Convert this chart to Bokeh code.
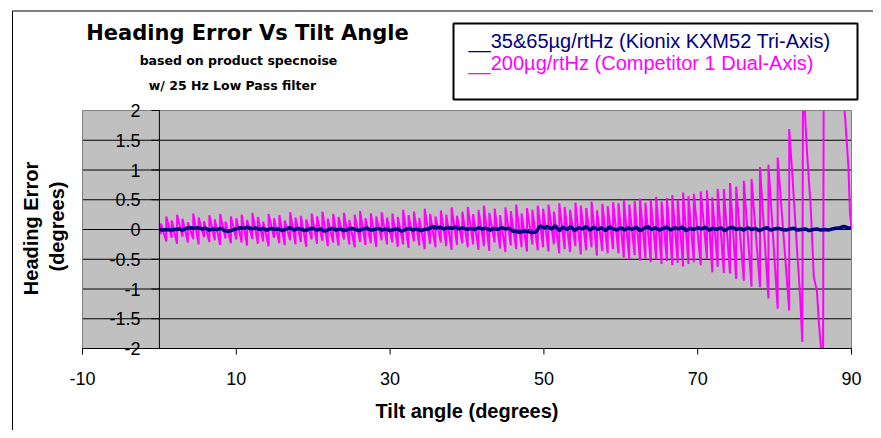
import math
from bokeh.plotting import figure
from bokeh.models import Range1d
from bokeh.core.properties import value
from bokeh.embed import file_html
from bokeh.resources import INLINE

FONT = "Liberation Sans"
TITLE_FONT = "DejaVu Sans"

# ---------------- data ----------------
x_min, x_max = -10, 90
y_min, y_max = -2, 2
x_ticks = [-10, 10, 30, 50, 70, 90]
x_tick_labels = ["-10", "10", "30", "50", "70", "90"]
y_ticks = [-2, -1.5, -1, -0.5, 0, 0.5, 1, 1.5, 2]
y_tick_labels = ["-2", "-1.5", "-1", "-0.5", "0", "0.5", "1", "1.5", "2"]
y_grid = [-1.5, -1, -0.5, 0, 0.5, 1, 1.5]

# Competitor (magenta): per oscillation cycle, tilt angle with trough and peak error
mag_cycle_tilt = [0.2, 0.9, 1.6, 2.3, 3.0, 3.7, 4.4, 5.1, 5.8, 6.5, 7.2, 7.9, 8.6, 9.3, 10.0,
                  10.7, 11.4, 12.1, 12.8, 13.5, 14.2, 14.9, 15.6, 16.3, 17.0, 17.7, 18.4, 19.1,
                  19.8, 20.5, 21.2, 21.9, 22.6, 23.3, 24.0, 24.7, 25.4, 26.1, 26.8, 27.5, 28.2, 28.9,
                  29.6, 30.3, 31.0, 31.7, 32.4, 33.1, 33.8, 34.5, 35.2, 35.9, 36.6, 37.3, 38.0, 38.7,
                  39.4, 40.1, 40.8, 41.5, 42.2, 42.9, 43.6, 44.3, 45.0, 45.7, 46.4, 47.1, 47.8, 48.5,
                  49.2, 49.9, 50.6, 51.3, 52.0, 52.7, 53.4, 54.1, 54.8, 55.5, 56.2, 56.9, 57.6, 58.3,
                  59.0, 59.7, 60.4, 61.1, 61.8, 62.5, 63.2, 63.9, 64.6, 65.3, 66.0, 66.7, 67.4, 68.1,
                  68.8, 69.5, 70.4, 71.2, 71.9, 72.6, 73.4, 74.2, 75.0, 76.0, 77.0, 78.1, 79.2, 80.4, 81.9]
mag_cycle_high = [0.10, 0.22, 0.15, 0.25, 0.18, 0.12, 0.27, 0.20, 0.14, 0.24, 0.17, 0.26, 0.13, 0.22, 0.19,
                  0.25, 0.16, 0.28, 0.21, 0.13, 0.26, 0.19, 0.24, 0.15, 0.29, 0.20, 0.23, 0.17, 0.27,
                  0.22, 0.30, 0.18, 0.26, 0.21, 0.28, 0.16, 0.25, 0.31, 0.19, 0.27, 0.22, 0.29, 0.20,
                  0.27, 0.21, 0.33, 0.24, 0.30, 0.19, 0.35, 0.26, 0.22, 0.32, 0.25, 0.37, 0.23, 0.30,
                  0.38, 0.26, 0.33, 0.40, 0.28, 0.35, 0.24, 0.37, 0.31, 0.42, 0.27, 0.36, 0.33, 0.40,
                  0.35, 0.42, 0.30, 0.44, 0.38, 0.33, 0.45, 0.40, 0.36, 0.47, 0.32, 0.43, 0.39, 0.46,
                  0.44, 0.50, 0.42, 0.48, 0.52, 0.45, 0.50, 0.55, 0.47, 0.53, 0.58, 0.50, 0.62, 0.56,
                  0.60, 0.64,
                  0.66, 0.54, 0.68, 0.68, 0.78, 0.72, 0.82, 0.85, 1.05, 1.09, 1.21, 1.69]
mag_cycle_low = [-0.08, -0.20, -0.14, -0.24, -0.12, -0.22, -0.16, -0.25, -0.13, -0.21, -0.18, -0.26, -0.15, -0.23, -0.17,
                 -0.22, -0.27, -0.16, -0.24, -0.20, -0.28, -0.14, -0.23, -0.26, -0.18, -0.25, -0.21, -0.29, -0.17,
                 -0.24, -0.19, -0.28, -0.22, -0.27, -0.17, -0.25, -0.30, -0.21, -0.26, -0.23, -0.29, -0.18, -0.25,
                 -0.22, -0.29, -0.25, -0.31, -0.20, -0.27, -0.33, -0.24, -0.30, -0.22, -0.28, -0.34, -0.26, -0.23,
                 -0.30, -0.25, -0.34, -0.28, -0.36, -0.22, -0.32, -0.38, -0.27, -0.33, -0.30, -0.37, -0.25, -0.35,
                 -0.30, -0.37, -0.25, -0.40, -0.33, -0.38, -0.28, -0.42, -0.35, -0.30, -0.44, -0.36, -0.40, -0.33,
                 -0.40, -0.47, -0.50, -0.43, -0.52, -0.48, -0.55, -0.50, -0.58, -0.53, -0.60, -0.56, -0.62, -0.58,
                 -0.55, -0.60,
                 -0.49, -0.72, -0.63, -0.73, -0.74, -0.83, -0.86, -0.96, -0.97, -1.16, -1.33, -1.36]
# Competitor tail (large swings near 90 degrees)
mag_tail_tilt = [82.3, 82.9, 83.3, 83.6, 83.7, 84.2, 84.7, 85.1, 85.5, 85.8, 86.3, 86.4, 88.6, 89.2, 89.6, 89.8, 90.0]
mag_tail_err = [0.94, -0.30, -1.08, -1.89, 2.60, 1.33, 0.37, -0.80, -1.03, -1.64, -2.40, 3.40, 2.80, 1.83, 1.05, 0.30, 0.02]

# Kionix (navy)
kx_tilt = [0, 0.5, 1, 1.5, 2, 2.5, 3, 3.5, 4, 4.5, 5, 5.5, 6, 6.5, 7, 7.5, 8, 8.5, 9, 9.5, 10,
           10.5, 11, 11.5, 12, 12.5, 13, 13.5, 14, 14.5, 15, 15.5, 16, 16.5, 17, 17.5, 18, 18.5, 19, 19.5, 20,
           20.5, 21, 21.5, 22, 22.5, 23, 23.5, 24, 24.5, 25, 25.5, 26, 26.5, 27, 27.5, 28, 28.5, 29, 29.5, 30,
           30.5, 31, 31.5, 32, 32.5, 33, 33.5, 34, 34.5, 35, 35.5, 36, 36.5, 37, 37.5, 38, 38.5, 39, 39.5, 40,
           40.5, 41, 41.5, 42, 42.5, 43, 43.5, 44, 44.5, 45, 45.5, 46, 46.5, 47, 47.5, 48, 48.5, 49, 49.5, 50,
           50.5, 51, 51.5, 52, 52.5, 53, 53.5, 54, 54.5, 55, 55.5, 56, 56.5, 57, 57.5, 58, 58.5, 59, 59.5, 60,
           60.5, 61, 61.5, 62, 62.5, 63, 63.5, 64, 64.5, 65, 65.5, 66, 66.5, 67, 67.5, 68, 68.5, 69, 69.5, 70,
           70.5, 71, 71.5, 72, 72.5, 73, 73.5, 74, 74.5, 75, 75.5, 76, 76.5, 77, 77.5, 78, 78.5, 79, 79.5, 80,
           80.5, 81, 81.5, 82, 82.5, 83, 83.5, 84, 84.5, 85, 85.5, 86, 86.5, 87, 87.5, 88, 88.5, 89, 89.5, 90]
kx_err = [0, -0.01, 0, -0.01, 0, 0.01, -0.01, 0.02, 0.03, 0.02, 0.03,
          0.01, 0.02, -0.01, 0.01, 0.0, 0.02, -0.02, -0.03, -0.01, 0.01,
          0.03, 0.02, 0.04, 0.01, 0.03, 0.0, 0.02, -0.01, 0.02, 0.0,
          0.01, -0.02, 0.01, 0.03, -0.01, 0.02, 0.0, -0.02, 0.01, 0.02,
          -0.01, 0.01, -0.03, 0.0, 0.02, -0.01, 0.01, -0.02, 0.0, 0.02,
          0.0, -0.02, 0.01, 0.02, -0.01, 0.0, 0.02, -0.01, 0.01, -0.02,
          0.0, 0.01, -0.03, 0.0, 0.02, -0.01, 0.01, -0.02, 0.0, 0.01,
          0.05, 0.03, 0.04, 0.01, 0.03, 0.02, 0.04, 0.01, 0.03, 0.0,
          0.02, 0.0, 0.03, 0.01, 0.02, -0.01, 0.02, 0.0, 0.03, 0.01,
          0.02, -0.03, -0.04, -0.04, -0.03, -0.04, -0.05, -0.04, 0.06, 0.03,
          0.05, 0.01, 0.06, -0.02, 0.04, 0.0, 0.05, -0.02, 0.03, 0.01,
          0.05, -0.01, 0.04, 0.0, 0.03, -0.02, 0.04, 0.01, -0.01, 0.03,
          -0.01, 0.03, 0.0, 0.04, -0.02, 0.02, 0.05, 0.0, 0.03, -0.01,
          0.02, 0.04, -0.01, 0.03, 0.01, 0.04, -0.02, 0.02, 0.0, 0.03,
          0.01, 0.04, -0.01, 0.02, 0.0, 0.03, -0.02, 0.02, 0.04, 0.0,
          0.02, -0.01, 0.03, 0.0, 0.02, -0.02, 0.01, 0.03, -0.01, 0.01,
          0.02, 0.0, -0.01, 0.01, 0.02, -0.01, 0.0, 0.01, -0.02, 0.0,
          0.01, -0.01, 0.0, -0.01, 0.01, 0.02, 0.03, 0.05, 0.03, 0.02]

title_text = "Heading Error Vs Tilt Angle"
subtitle_lines = ["based on product specnoise", "w/ 25 Hz Low Pass filter"]
legend_texts = ["__35&65µg/rtHz (Kionix KXM52 Tri-Axis)", "__200µg/rtHz (Competitor 1 Dual-Axis)"]
series_colors = ["#000080", "#FF00FF"]
x_label = "Tilt angle (degrees)"
y_label_lines = ["Heading Error", "(degrees)"]

# build magenta path: rise at each cycle (trough -> peak), then the tail
mag_x, mag_y = [], []
for t, lo, hi in zip(mag_cycle_tilt, mag_cycle_low, mag_cycle_high):
    mag_x += [t, t]
    mag_y += [lo, hi]
mag_x += mag_tail_tilt
mag_y += mag_tail_err

# ---------------- layout (pixel geometry of the plot area) ----------------
W, H = 873, 430
PL, PR, PT, PB = 82, 851, 110, 348          # plot area edges in pixels
KX = (PR - PL) / (x_max - x_min)            # px per x unit
KY = (PB - PT) / (y_max - y_min)            # px per y unit


def sx(px):
    return x_min + (px - PL) / KX


def sy(py):
    return y_max - (py - PT) / KY


p = figure(width=W, height=H, x_range=Range1d(sx(0), sx(W)), y_range=Range1d(sy(H), sy(0)),
           output_backend="svg", toolbar_location=None, title_location=None,
           x_axis_location=None, y_axis_location=None,
           min_border=0, border_fill_color="white", background_fill_color="white",
           outline_line_color=None)
p.xgrid.visible = False
p.ygrid.visible = False

F = value(FONT)
TF = value(TITLE_FONT)

# plot area background
p.quad(left=[x_min], right=[x_max], bottom=[y_min], top=[y_max],
       fill_color="#C0C0C0", line_color=None)
# horizontal gridlines
p.segment(x0=[x_min] * len(y_grid), x1=[x_max] * len(y_grid), y0=y_grid, y1=y_grid,
          line_color="black", line_width=1)

# series
p.line(mag_x, mag_y, line_color=series_colors[1], line_width=2)
p.line(kx_tilt, kx_err, line_color=series_colors[0], line_width=3.5)

# clip the series to the plot area
p.quad(left=[sx(-50)], right=[sx(W + 50)], bottom=[y_max], top=[sy(-200)], fill_color="white", line_color=None)
p.quad(left=[sx(-50)], right=[sx(W + 50)], bottom=[sy(H + 200)], top=[y_min], fill_color="white", line_color=None)

# plot area border
p.quad(left=[x_min], right=[x_max], bottom=[y_min], top=[y_max],
       fill_alpha=0, line_color="#808080", line_width=1)

# axes
p.segment(x0=[x_min], x1=[x_max], y0=[y_min], y1=[y_min], line_color="black", line_width=1)
p.segment(x0=[0], x1=[0], y0=[y_min], y1=[y_max], line_color="black", line_width=1)
p.segment(x0=[0] * len(y_ticks), x1=[-8 / KX] * len(y_ticks), y0=y_ticks, y1=y_ticks,
          line_color="black", line_width=1)
p.segment(x0=x_ticks, x1=x_ticks, y0=[y_min] * len(x_ticks), y1=[y_min - 6 / KY] * len(x_ticks),
          line_color="black", line_width=1)

p.text(x=[0] * len(y_ticks), y=y_ticks, text=y_tick_labels, x_offset=-19, y_offset=0,
       text_font=F, text_font_size="18px", text_color="black",
       text_align="right", text_baseline="middle")
p.text(x=x_ticks, y=[y_min] * len(x_ticks), text=x_tick_labels, y_offset=378 - PB,
       text_font=F, text_font_size="18px", text_color="black",
       text_align="center", text_baseline="middle")

# axis titles
p.text(x=[(x_min + x_max) / 2], y=[y_min], text=[x_label], y_offset=410.5 - PB,
       text_font=F, text_font_size="20px", text_font_style="bold", text_color="black",
       text_align="center", text_baseline="middle")
p.text(x=[sx(30), sx(56)], y=[sy(228), sy(226)], text=y_label_lines, angle=math.pi / 2,
       text_font=F, text_font_size="20px", text_font_style="bold", text_color="black",
       text_align="center", text_baseline="middle")

# chart title and subtitle
p.text(x=[sx(247)], y=[sy(32.5)], text=[title_text],
       text_font=TF, text_font_size="21px", text_font_style="bold", text_color="black",
       text_align="center", text_baseline="middle")
p.text(x=[sx(238), sx(232)], y=[sy(59.5), sy(84.5)], text=subtitle_lines,
       text_font=TF, text_font_size="12.5px", text_font_style="bold", text_color="black",
       text_align="center", text_baseline="middle")

# legend
p.quad(left=[sx(453)], right=[sx(857)], top=[sy(23)], bottom=[sy(99)],
       fill_color="white", line_color="black", line_width=2)
p.text(x=[sx(468), sx(468)], y=[sy(40), sy(62.5)], text=legend_texts, text_color=series_colors,
       text_font=F, text_font_size="20px", text_align="left", text_baseline="middle")

# outer chart border
p.line([sx(12), sx(12), sx(W)], [sy(H), sy(10.5), sy(10.5)], line_color="black", line_width=1)

open("out.html", "w").write(file_html(p, INLINE))
